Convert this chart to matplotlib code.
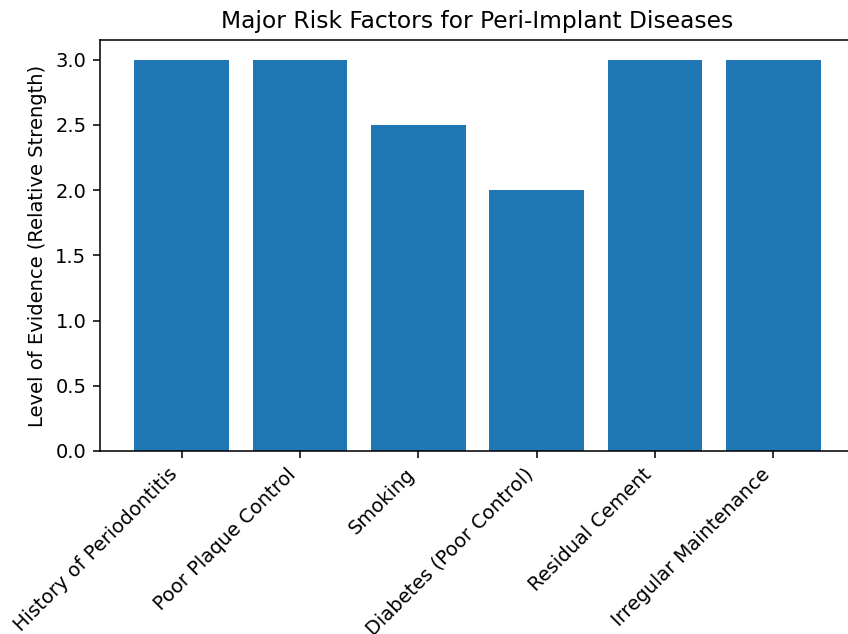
import matplotlib
matplotlib.use("Agg")
import matplotlib.pyplot as plt

factors = ["History of Periodontitis", "Poor Plaque Control", "Smoking",
           "Diabetes (Poor Control)", "Residual Cement", "Irregular Maintenance"]
strength = [3.0, 3.0, 2.5, 2.0, 3.0, 3.0]

W, H = 848, 634
s = 1.4
fig = plt.figure(figsize=(W / 100, H / 100), dpi=100)
ax = fig.add_axes([100 / W, (H - 451) / H, 755 / W, 411 / H])
ax.bar(factors, strength, color="#1f77b4")
ax.set_title("Major Risk Factors for Peri-Implant Diseases", fontsize=12 * s, pad=6 * s)
ax.set_ylabel("Level of Evidence (Relative Strength)", fontsize=10 * s, labelpad=4 * s)
ax.tick_params(labelsize=10 * s, length=3.5 * s, width=0.8 * s, pad=3.5 * s)
for sp in ax.spines.values():
    sp.set_linewidth(0.8 * s)
plt.setp(ax.get_xticklabels(), rotation=45, ha="right")
fig.savefig("out.png", dpi=100)
